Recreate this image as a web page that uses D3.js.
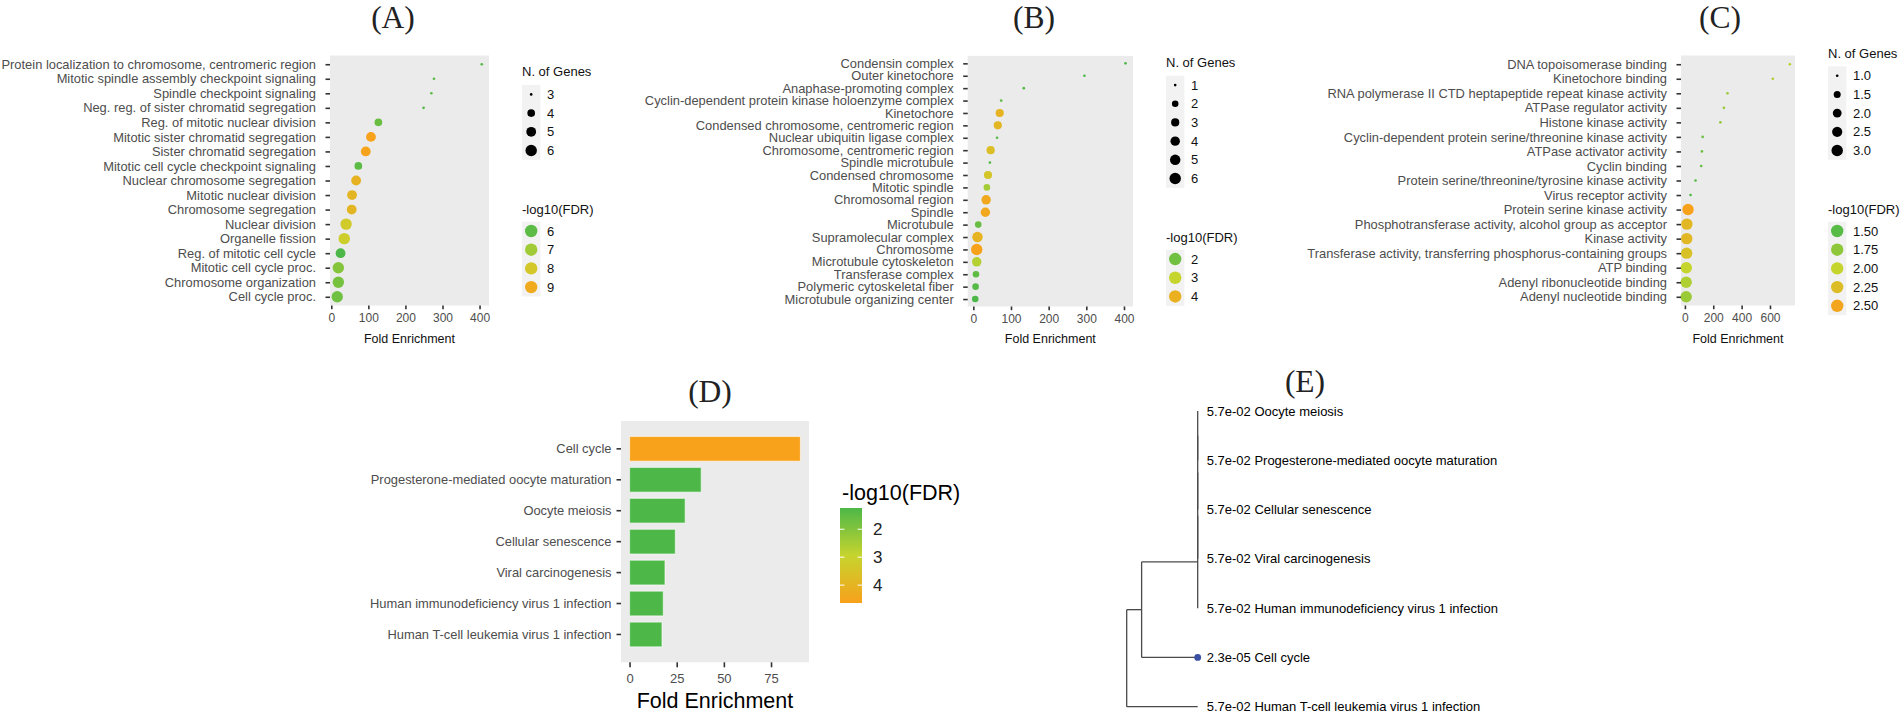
<!DOCTYPE html>
<html>
<head>
<meta charset="utf-8">
<script src="https://cdn.jsdelivr.net/npm/d3@7"></script>
<style>
body { margin: 0; background: #fff; }
text { font-family: "Liberation Sans", Arial, Helvetica, sans-serif; }
text.ttl { font-family: "Liberation Serif", "Times New Roman", serif; }
</style>
</head>
<body>
<svg id="fig" width="1900" height="716"></svg>
<script>
// ---- data: (A) biological process ----
const termsA = ["Protein localization to chromosome, centromeric region", "Mitotic spindle assembly checkpoint signaling",
  "Spindle checkpoint signaling", "Neg. reg. of sister chromatid segregation", "Reg. of mitotic nuclear division",
  "Mitotic sister chromatid segregation", "Sister chromatid segregation", "Mitotic cell cycle checkpoint signaling",
  "Nuclear chromosome segregation", "Mitotic nuclear division", "Chromosome segregation", "Nuclear division",
  "Organelle fission", "Reg. of mitotic cell cycle", "Mitotic cell cycle proc.", "Chromosome organization", "Cell cycle proc."];
const foldA = [406, 277, 270, 249, 127, 107, 93, 73, 67, 56, 55, 40, 35, 25, 19, 19, 16];
const genesA = [3, 3, 3, 3, 4, 5, 5, 4, 5, 5, 5, 6, 6, 5, 6, 6, 6];
const fdrA = [5.9, 6.0, 6.0, 5.9, 6.2, 9.3, 9.2, 6.0, 8.7, 8.6, 8.6, 7.9, 7.8, 5.8, 6.6, 6.4, 6.3];
const sizeBreaksA = [3, 4, 5, 6];
const colorBreaksA = [6, 7, 8, 9];
const xTicksA = [0, 100, 200, 300, 400];

// ---- data: (B) cellular component ----
const termsB = ["Condensin complex", "Outer kinetochore", "Anaphase-promoting complex",
  "Cyclin-dependent protein kinase holoenzyme complex", "Kinetochore", "Condensed chromosome, centromeric region",
  "Nuclear ubiquitin ligase complex", "Chromosome, centromeric region", "Spindle microtubule", "Condensed chromosome",
  "Mitotic spindle", "Chromosomal region", "Spindle", "Microtubule", "Supramolecular complex", "Chromosome",
  "Microtubule cytoskeleton", "Transferase complex", "Polymeric cytoskeletal fiber", "Microtubule organizing center"];
const foldB = [404, 295, 134, 74, 70, 65, 63, 46, 44, 39, 36, 34, 32, 13, 11, 9, 9, 7, 6, 5];
const genesB = [1, 1, 1, 1, 3, 3, 1, 3, 1, 3, 2, 4, 4, 2, 5, 6, 4, 2, 2, 2];
const fdrB = [1.6, 1.6, 1.7, 1.8, 3.9, 3.8, 1.7, 3.6, 1.7, 3.4, 2.6, 4.2, 4.2, 1.9, 3.9, 4.4, 2.8, 1.8, 1.7, 1.6];
const sizeBreaksB = [1, 2, 3, 4, 5, 6];
const colorBreaksB = [2, 3, 4];
const xTicksB = [0, 100, 200, 300, 400];

// ---- data: (C) molecular function ----
const termsC = ["DNA topoisomerase binding", "Kinetochore binding",
  "RNA polymerase II CTD heptapeptide repeat kinase activity", "ATPase regulator activity", "Histone kinase activity",
  "Cyclin-dependent protein serine/threonine kinase activity", "ATPase activator activity", "Cyclin binding",
  "Protein serine/threonine/tyrosine kinase activity", "Virus receptor activity", "Protein serine kinase activity",
  "Phosphotransferase activity, alcohol group as acceptor", "Kinase activity",
  "Transferase activity, transferring phosphorus-containing groups", "ATP binding", "Adenyl ribonucleotide binding",
  "Adenyl nucleotide binding"];
const foldC = [740, 620, 300, 275, 250, 125, 120, 115, 75, 40, 22, 14, 13, 12, 10, 9, 9];
const genesC = [1, 1, 1, 1, 1, 1, 1, 1, 1, 1, 3, 3, 3, 3, 3, 3, 3];
const fdrC = [1.95, 1.9, 1.8, 1.8, 1.75, 1.6, 1.6, 1.55, 1.5, 1.45, 2.55, 2.3, 2.3, 2.2, 2.0, 1.9, 1.8];
const sizeBreaksC = [1, 1.5, 2, 2.5, 3];
const colorBreaksC = [1.5, 1.75, 2, 2.25, 2.5];
const xTicksC = [0, 200, 400, 600];

// ---- data: (D) KEGG bar chart ----
const pathwaysD = ["Cell cycle", "Progesterone-mediated oocyte maturation", "Oocyte meiosis", "Cellular senescence",
  "Viral carcinogenesis", "Human immunodeficiency virus 1 infection", "Human T-cell leukemia virus 1 infection"];
const foldD = [90.6, 38.0, 29.5, 24.3, 18.8, 17.9, 17.2];
const fdrD = [4.64, 1.24, 1.24, 1.24, 1.24, 1.24, 1.24];
const colorBreaksD = [2, 3, 4];
const xTicksD = [0, 25, 50, 75];

// ---- data: (E) pathway tree ----
const treeTips = ["Oocyte meiosis", "Progesterone-mediated oocyte maturation", "Cellular senescence",
  "Viral carcinogenesis", "Human immunodeficiency virus 1 infection", "Cell cycle",
  "Human T-cell leukemia virus 1 infection"];
const treeTipFDR = ["5.7e-02", "5.7e-02", "5.7e-02", "5.7e-02", "5.7e-02", "2.3e-05", "5.7e-02"];
// node, parent, branch length
const treeEdges = [
  ["root", null, 0],
  ["n5", "root", 0.21],
  ["Human T-cell leukemia virus 1 infection", "root", 1],
  ["n4", "n5", 0.79],
  ["Cell cycle", "n5", 0.79],
  ["n3", "n4", 0],
  ["Human immunodeficiency virus 1 infection", "n4", 0],
  ["n2", "n3", 0],
  ["Viral carcinogenesis", "n3", 0],
  ["n1", "n2", 0],
  ["Cellular senescence", "n2", 0],
  ["Oocyte meiosis", "n1", 0],
  ["Progesterone-mediated oocyte maturation", "n1", 0],
];

const svg = d3.select("#fig");
const grad = d3.scaleLinear().domain([0, 0.5, 1]).range(["#4db848", "#c6d42e", "#f8a11b"]);

function expand(ext) {
  const d = ext[1] - ext[0];
  return [ext[0] - 0.05 * d, ext[1] + 0.05 * d];
}

function styleAxis(g, color, size) {
  g.select(".domain").remove();
  g.selectAll(".tick line").attr("stroke", "#333").attr("stroke-width", 1.6);
  g.selectAll(".tick text").attr("fill", color).attr("font-size", size);
}

function panelTitle(txt, x, y) {
  svg.append("text").attr("class", "ttl").attr("x", x).attr("y", y).attr("text-anchor", "middle")
    .attr("font-size", 31.5).attr("fill", "#222").text(txt);
}

// dot plot (A, B, C)
function dotPanel(o) {
  const g = svg.append("g");
  const x = d3.scaleLinear().domain(expand(d3.extent(o.fold))).range([o.left, o.right]);
  const y = d3.scalePoint().domain(o.terms).range([o.top, o.bottom]).padding(0.6);
  const gExt = d3.extent(o.genes);
  const sz = d3.scaleSqrt().domain([0, gExt[1] - gExt[0]]).range([1, 6]);
  const rad = (n) => (1.75 * sz(n - gExt[0]) + 0.9) / 2;
  const cExt = d3.extent(o.fdr);
  const col = (v) => grad((v - cExt[0]) / (cExt[1] - cExt[0]));

  g.append("rect").attr("x", o.left).attr("y", o.top)
    .attr("width", o.right - o.left).attr("height", o.bottom - o.top).attr("fill", "#ebebeb");

  g.selectAll("circle.pt").data(o.terms).join("circle").attr("class", "pt")
    .attr("cx", (d, i) => x(o.fold[i])).attr("cy", (d) => y(d))
    .attr("r", (d, i) => rad(o.genes[i])).attr("fill", (d, i) => col(o.fdr[i]));

  const ya = g.append("g").attr("transform", `translate(${o.left},0)`)
    .call(d3.axisLeft(y).tickSize(4.5).tickPadding(9.5));
  styleAxis(ya, "#4d4d4d", 12.9);

  const xa = g.append("g").attr("transform", `translate(0,${o.bottom})`)
    .call(d3.axisBottom(x).tickValues(o.ticks).tickSize(3.7).tickPadding(4.5));
  styleAxis(xa, "#4d4d4d", 12);

  g.append("text").attr("x", (o.left + o.right) / 2).attr("y", 342.5).attr("text-anchor", "middle")
    .attr("font-size", 12.5).attr("fill", "#111").text("Fold Enrichment");

  // legends
  const nS = o.sizeBreaks.length, nC = o.colorBreaks.length;
  const span = 22.7 + (nS - 1) * 18.7 + 59 + 21.5 + (nC - 1) * 18.7;
  const t1 = 179.4 - span / 2;
  const lx = o.right + 33;
  const lg = g.append("g");
  lg.append("text").attr("x", lx).attr("y", t1 + 4.6).attr("font-size", 13).attr("fill", "#111").text("N. of Genes");
  const s0 = t1 + 22.7;
  lg.append("rect").attr("x", lx).attr("y", s0 - 9.35).attr("width", 18.4).attr("height", nS * 18.7).attr("fill", "#f2f2f2");
  o.sizeBreaks.forEach((b, i) => {
    const cy = s0 + i * 18.7;
    lg.append("circle").attr("cx", lx + 9.2).attr("cy", cy).attr("r", rad(b)).attr("fill", "#000");
    lg.append("text").attr("x", lx + 25).attr("y", cy + 4.6).attr("font-size", 13).attr("fill", "#111")
      .text(o.sizeFmt ? o.sizeFmt(b) : b);
  });
  const t2 = s0 + (nS - 1) * 18.7 + 59;
  lg.append("text").attr("x", lx).attr("y", t2 + 4.6).attr("font-size", 13).attr("fill", "#111").text("-log10(FDR)");
  const c0 = t2 + 21.5;
  lg.append("rect").attr("x", lx).attr("y", c0 - 9.35).attr("width", 18.4).attr("height", nC * 18.7).attr("fill", "#f2f2f2");
  o.colorBreaks.forEach((b, i) => {
    const cy = c0 + i * 18.7;
    lg.append("circle").attr("cx", lx + 9.2).attr("cy", cy).attr("r", 6.2).attr("fill", col(b));
    lg.append("text").attr("x", lx + 25).attr("y", cy + 4.6).attr("font-size", 13).attr("fill", "#111")
      .text(o.colorFmt ? o.colorFmt(b) : b);
  });
}

dotPanel({ terms: termsA, fold: foldA, genes: genesA, fdr: fdrA, ticks: xTicksA,
  sizeBreaks: sizeBreaksA, colorBreaks: colorBreaksA, left: 330, right: 489, top: 55.5, bottom: 305.5 });
dotPanel({ terms: termsB, fold: foldB, genes: genesB, fdr: fdrB, ticks: xTicksB,
  sizeBreaks: sizeBreaksB, colorBreaks: colorBreaksB, left: 967.7, right: 1133, top: 55.9, bottom: 306.5 });
dotPanel({ terms: termsC, fold: foldC, genes: genesC, fdr: fdrC, ticks: xTicksC,
  sizeBreaks: sizeBreaksC, colorBreaks: colorBreaksC, left: 1681, right: 1795, top: 55.5, bottom: 305.5,
  sizeFmt: d3.format(".1f"), colorFmt: d3.format(".2f") });

panelTitle("(A)", 393, 27.5);
panelTitle("(B)", 1034, 27.5);
panelTitle("(C)", 1720, 27.5);

// ---- (D) bar chart ----
(function () {
  const left = 621, right = 809, top = 421, bottom = 662.3;
  const g = svg.append("g");
  const x = d3.scaleLinear().domain(expand([0, d3.max(foldD)])).range([left, right]);
  const y = d3.scaleBand().domain(pathwaysD).range([top, bottom]).paddingInner(0.2).paddingOuter(0.5);
  const cExt = d3.extent(fdrD);
  const col = (v) => grad((v - cExt[0]) / (cExt[1] - cExt[0]));

  g.append("rect").attr("x", left).attr("y", top).attr("width", right - left).attr("height", bottom - top).attr("fill", "#ebebeb");
  g.selectAll("rect.bar").data(pathwaysD).join("rect").attr("class", "bar")
    .attr("x", x(0)).attr("y", (d) => y(d)).attr("height", y.bandwidth())
    .attr("width", (d, i) => x(foldD[i]) - x(0)).attr("fill", (d, i) => col(fdrD[i]))
    .attr("stroke", "#ffffff").attr("stroke-opacity", 0.55).attr("stroke-width", 1.2);

  const ya = g.append("g").attr("transform", `translate(${left},0)`)
    .call(d3.axisLeft(y).tickSize(4.5).tickPadding(5));
  styleAxis(ya, "#4d4d4d", 12.9);
  const xa = g.append("g").attr("transform", `translate(0,${bottom})`)
    .call(d3.axisBottom(x).tickValues(xTicksD).tickSize(5).tickPadding(6));
  styleAxis(xa, "#4d4d4d", 13);
  g.append("text").attr("x", (left + right) / 2).attr("y", 707.7).attr("text-anchor", "middle")
    .attr("font-size", 21.5).attr("fill", "#000").text("Fold Enrichment");

  // colour bar legend
  const bx = 840, by = 508, bw = 22, bh = 95;
  const cb = d3.scaleLinear().domain(cExt).range([by, by + bh]);
  const lgd = svg.append("defs").append("linearGradient").attr("id", "gD")
    .attr("x1", 0).attr("y1", 0).attr("x2", 0).attr("y2", 1);
  d3.range(0, 1.0001, 0.1).forEach((t) => lgd.append("stop").attr("offset", t).attr("stop-color", grad(t)));
  g.append("text").attr("x", 842).attr("y", 500).attr("font-size", 21.5).attr("fill", "#000").text("-log10(FDR)");
  g.append("rect").attr("x", bx).attr("y", by).attr("width", bw).attr("height", bh).attr("fill", "url(#gD)");
  colorBreaksD.forEach((b) => {
    g.append("line").attr("x1", bx).attr("x2", bx + 4.4).attr("y1", cb(b)).attr("y2", cb(b)).attr("stroke", "#fff");
    g.append("line").attr("x1", bx + bw - 4.4).attr("x2", bx + bw).attr("y1", cb(b)).attr("y2", cb(b)).attr("stroke", "#fff");
    g.append("text").attr("x", 873).attr("y", cb(b) + 6).attr("font-size", 17).attr("fill", "#222").text(b);
  });
})();
panelTitle("(D)", 710, 401.5);

// ---- (E) tree ----
(function () {
  const root = d3.stratify().id((d) => d[0]).parentId((d) => d[1])(treeEdges);
  root.each((n) => { n.len = (n.parent ? n.parent.len : 0) + n.data[2]; });
  const x = d3.scaleLinear().domain([0, 1]).range([1126.7, 1197.7]);
  const yt = d3.scalePoint().domain(treeTips).range([411, 706.7]);
  root.eachAfter((n) => { n.yy = n.children ? d3.mean(n.children, (c) => c.yy) : yt(n.id); });
  const g = svg.append("g").attr("stroke", "#4a4a4a").attr("stroke-width", 1.3).attr("fill", "none");
  root.each((n) => {
    if (n.parent) {
      g.append("line").attr("x1", x(n.parent.len)).attr("x2", x(n.len)).attr("y1", n.yy).attr("y2", n.yy);
    }
    if (n.children) {
      const ys = n.children.map((c) => c.yy);
      g.append("line").attr("x1", x(n.len)).attr("x2", x(n.len)).attr("y1", d3.min(ys)).attr("y2", d3.max(ys));
    }
  });
  const tg = svg.append("g");
  treeTips.forEach((t, i) => {
    tg.append("text").attr("x", x(1) + 9).attr("y", yt(t) + 4.6).attr("font-size", 13).attr("fill", "#000")
      .text(treeTipFDR[i] + " " + t);
    if (+treeTipFDR[i] < 0.05) {
      tg.append("circle").attr("cx", x(1)).attr("cy", yt(t)).attr("r", 3.4).attr("fill", "#3b4fa3");
    }
  });
})();
panelTitle("(E)", 1305, 392);
</script>
</body>
</html>
